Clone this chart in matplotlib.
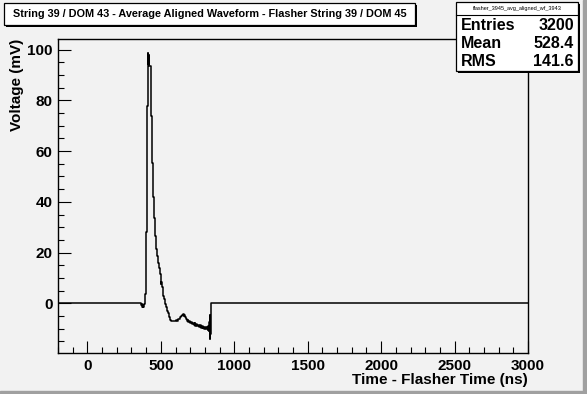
import matplotlib
matplotlib.use("Agg")
import matplotlib.pyplot as plt
from matplotlib.patches import Rectangle
from matplotlib.ticker import MultipleLocator

plt.rcParams['font.family'] = ['Liberation Sans', 'DejaVu Sans']

# waveform (time in ns, voltage in mV), drawn as steps
time_ns = [-200, 366, 369, 372, 375, 378, 381, 384, 387, 390, 393, 399, 406, 412,
           415, 418, 421, 430, 437, 444, 451, 458, 465, 471, 478, 485, 492, 498,
           503, 506, 512, 519, 526, 533, 540, 546, 553, 560, 567, 600, 610, 620,
           630, 637, 643, 650, 655, 660, 665, 670, 675, 682, 688, 694, 700, 706,
           712, 718, 724, 730, 736, 742, 748, 754, 760, 766, 772, 778, 784, 790,
           796, 802, 808, 814, 818, 822, 826, 829, 832, 835, 838, 842, 3000]
volt_mv = [0, -0.6, -1.2, -0.4, -1.5, -0.8, -1.3, -0.5, -0.2, 0.8, 3.7, 28, 77.9, 98.6,
           94.5, 98, 93.7, 73.7, 55.2, 41.8, 33.6, 26.6, 21.4, 18.8, 15.9, 13.8, 11.5, 7.6,
           8.4, 6.4, 3, 1.7, -0.3, -1.6, -2.9, -3.8, -5.5, -6.4, -6.8, -6.5, -6.8, -6.3,
           -5.6, -5.1, -4.8, -4.4, -5.0, -4.6, -5.6, -6.0, -6.9, -6.5, -7.4, -6.8, -7.8, -7.2,
           -8.3, -7.6, -8.6, -7.9, -8.8, -8.2, -9.1, -8.5, -9.3, -8.7, -9.6, -9.0, -9.8, -9.2,
           -10.0, -9.4, -10.2, -9.3, -10.5, -8.8, -11.0, -7.5, -14.2, -4.5, -12.0, 0, 0]

title = "String 39 / DOM 43 - Average Aligned Waveform - Flasher String 39 / DOM 45"
hist_name = "flasher_3945_avg_aligned_wf_3943"
stat_names = ["Entries", "Mean", "RMS"]
stat_values = ["3200", "528.4", "141.6"]

W, H = 587, 394
bg = '#f2f2f2'
fig = plt.figure(figsize=(W / 100, H / 100), dpi=100, facecolor=bg)

def px(x0, y0, x1, y1):
    # pixel box -> figure fraction rect
    return (x0 / W, 1 - y1 / H, (x1 - x0) / W, (y1 - y0) / H)

ax = fig.add_axes(px(58, 39, 528, 353))
ax.set_facecolor(bg)
ax.plot(time_ns, volt_mv, drawstyle='steps-post', color='black', lw=1.1)
ax.set_xlim(-200, 3000)
ax.set_ylim(-19.6, 104.2)
ax.xaxis.set_major_locator(MultipleLocator(500))
ax.xaxis.set_minor_locator(MultipleLocator(100))
ax.yaxis.set_major_locator(MultipleLocator(20))
ax.yaxis.set_minor_locator(MultipleLocator(5))
ax.tick_params(which='major', direction='in', length=9, width=0.8, labelsize=11, pad=4)
ax.tick_params(which='minor', direction='in', length=4.5, width=0.8)
for lab in ax.get_xticklabels() + ax.get_yticklabels():
    lab.set_fontweight('bold')
for s in ax.spines.values():
    s.set_linewidth(1.0)
ax.set_xlabel("Time - Flasher Time (ns)", fontsize=11, fontweight='bold', loc='right', labelpad=0)
ax.set_ylabel("Voltage (mV)", fontsize=11, fontweight='bold', loc='top', labelpad=2)

# canvas bevel (ROOT style)
fig.patches.append(Rectangle((583 / W, 0), 4 / W, 1, transform=fig.transFigure,
                             color='#a0a0a0', zorder=0))
fig.patches.append(Rectangle((0, 0), 1, 3 / H, transform=fig.transFigure,
                             color='#a0a0a0', zorder=0))

def box(x0, y0, x1, y1):
    fig.patches.append(Rectangle(px(x0 + 2, y0 + 2, x1 + 2, y1 + 2)[:2],
                                 (x1 - x0) / W, (y1 - y0) / H, transform=fig.transFigure,
                                 facecolor='black', edgecolor='none', zorder=2))
    fig.patches.append(Rectangle(px(x0, y0, x1, y1)[:2], (x1 - x0) / W, (y1 - y0) / H,
                                 transform=fig.transFigure, facecolor='white',
                                 edgecolor='black', lw=0.9, zorder=3))

# title box
box(4, 3, 415, 25)
t = fig.text(210 / W, 1 - 14 / H, title, ha='center', va='center', fontsize=8,
             fontweight='bold', zorder=4)
r = fig.canvas.get_renderer()
w = t.get_window_extent(r).width
t.set_fontsize(8 * 394 / w)

# stats box
box(456, 2, 578, 71)
fig.add_artist(plt.Line2D([456 / W, 578 / W], [1 - 15 / H] * 2, color='black', lw=0.8, zorder=4))
fig.text(517 / W, 1 - 8.5 / H, hist_name, ha='center', va='center', fontsize=4, zorder=4)
for i, (n, v) in enumerate(zip(stat_names, stat_values)):
    y = 1 - (26 + i * 18) / H
    fig.text(461 / W, y, n, ha='left', va='center', fontsize=11.5, fontweight='bold', zorder=4)
    fig.text(574 / W, y, v, ha='right', va='center', fontsize=11.5, fontweight='bold', zorder=4)

fig.savefig("out.png", dpi=100, facecolor=bg)
